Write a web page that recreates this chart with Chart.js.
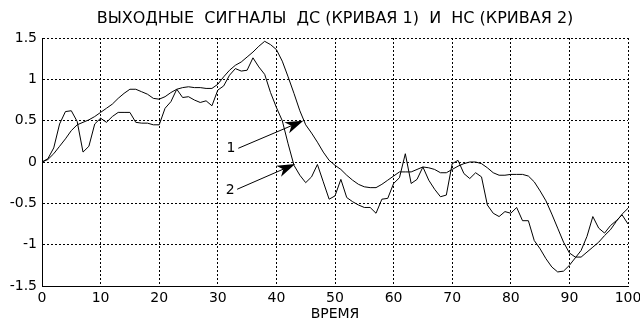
<!DOCTYPE html>
<html>
<head>
<meta charset="utf-8">
<script src="https://cdn.jsdelivr.net/npm/chart.js@4/dist/chart.umd.min.js"></script>
<style>
  html, body { margin: 0; padding: 0; background: #fff; }
  #wrap { width: 640px; height: 323px; }
</style>
</head>
<body>
<div id="wrap"><canvas id="c" width="640" height="323"></canvas></div>
<script>
// Sampling instants (time axis)
const time = Array.from({ length: 101 }, (_, i) => i);

// Curve 1: output of the ДС system
const dsOutput = [
  0, 0.03, 0.10, 0.19, 0.28, 0.38, 0.45, 0.48, 0.51, 0.55,
  0.60, 0.65, 0.70, 0.77, 0.83, 0.88, 0.88, 0.85, 0.82, 0.77,
  0.76, 0.79, 0.84, 0.88, 0.90, 0.91, 0.90, 0.90, 0.89, 0.89,
  0.94, 1.03, 1.11, 1.17, 1.21, 1.27, 1.33, 1.40, 1.46, 1.42,
  1.36, 1.22, 1.03, 0.83, 0.62, 0.45, 0.35, 0.24, 0.12, 0.02,
  -0.04, -0.09, -0.16, -0.22, -0.27, -0.30, -0.31, -0.31, -0.27, -0.22,
  -0.17, -0.12, -0.12, -0.12, -0.09, -0.06, -0.07, -0.09, -0.13, -0.13,
  -0.09, -0.05, -0.02, 0.00, 0.00, -0.02, -0.07, -0.13, -0.16, -0.16,
  -0.15, -0.15, -0.15, -0.17, -0.24, -0.35, -0.47, -0.63, -0.80, -0.97,
  -1.10, -1.15, -1.15, -1.09, -1.03, -0.97, -0.89, -0.82, -0.72, -0.63,
  -0.56
];

// Curve 2: output of the НС system
const nsOutput = [
  0, 0.04, 0.17, 0.46, 0.61, 0.62, 0.49, 0.12, 0.19, 0.46,
  0.53, 0.48, 0.55, 0.60, 0.60, 0.60, 0.48, 0.47, 0.47, 0.45,
  0.45, 0.65, 0.73, 0.88, 0.78, 0.79, 0.75, 0.72, 0.74, 0.68,
  0.87, 0.92, 1.05, 1.13, 1.10, 1.11, 1.26, 1.15, 1.06, 0.84,
  0.66, 0.50, 0.22, -0.04, -0.16, -0.25, -0.18, -0.03, -0.24, -0.45,
  -0.41, -0.21, -0.43, -0.48, -0.52, -0.55, -0.55, -0.62, -0.45, -0.44,
  -0.26, -0.19, 0.10, -0.26, -0.21, -0.06, -0.22, -0.33, -0.42, -0.40,
  -0.02, 0.02, -0.14, -0.20, -0.13, -0.18, -0.52, -0.62, -0.66, -0.60,
  -0.62, -0.55, -0.71, -0.71, -0.95, -1.05, -1.17, -1.27, -1.33, -1.32,
  -1.25, -1.16, -1.07, -0.90, -0.66, -0.80, -0.86, -0.77, -0.71, -0.64,
  -0.75
];

const xTicks = [0, 10, 20, 30, 40, 50, 60, 70, 80, 90, 100];
const yTicks = [-1.5, -1, -0.5, 0, 0.5, 1, 1.5];

// Curve markers: label text, label position, arrow start and arrow tip (data units)
const markerText = ['1', '2'];
const markerLabelAt = [[32.25, 0.17], [32.1, -0.34]];
const markerFrom = [[33.5, 0.166], [33.3, -0.33]];
const markerTip = [[44.6, 0.50], [43.2, -0.024]];

const FONT = 'DejaVu Sans';

const toPoints = ys => time.map((t, i) => ({ x: t, y: ys[i] }));

const curveMarkers = {
  id: 'curveMarkers',
  afterDatasetsDraw(chart) {
    const { ctx, scales: { x, y } } = chart;
    ctx.save();
    ctx.strokeStyle = '#000';
    ctx.fillStyle = '#000';
    ctx.lineWidth = 1;
    for (let i = 0; i < markerText.length; i++) {
      const x0 = x.getPixelForValue(markerFrom[i][0]);
      const y0 = y.getPixelForValue(markerFrom[i][1]);
      const x1 = x.getPixelForValue(markerTip[i][0]);
      const y1 = y.getPixelForValue(markerTip[i][1]);
      const ang = Math.atan2(y1 - y0, x1 - x0);
      const len = 18, half = 6, notch = 13;
      const bx = x1 - notch * Math.cos(ang), by = y1 - notch * Math.sin(ang);
      ctx.beginPath();
      ctx.moveTo(x0, y0);
      ctx.lineTo(bx, by);
      ctx.stroke();
      const cx = x1 - len * Math.cos(ang), cy = y1 - len * Math.sin(ang);
      ctx.beginPath();
      ctx.moveTo(x1, y1);
      ctx.lineTo(cx + half * Math.sin(ang), cy - half * Math.cos(ang));
      ctx.lineTo(bx, by);
      ctx.lineTo(cx - half * Math.sin(ang), cy + half * Math.cos(ang));
      ctx.closePath();
      ctx.fill();
      ctx.font = '14px "' + FONT + '"';
      ctx.textAlign = 'center';
      ctx.textBaseline = 'middle';
      ctx.fillText(markerText[i], x.getPixelForValue(markerLabelAt[i][0]), y.getPixelForValue(markerLabelAt[i][1]));
    }
    ctx.restore();
  }
};

new Chart(document.getElementById('c'), {
  type: 'line',
  data: {
    datasets: [
      { label: 'ДС', data: toPoints(dsOutput), borderColor: '#000', borderWidth: 1, pointRadius: 0, tension: 0, fill: false },
      { label: 'НС', data: toPoints(nsOutput), borderColor: '#000', borderWidth: 1, pointRadius: 0, tension: 0, fill: false }
    ]
  },
  options: {
    responsive: false,
    animation: false,
    devicePixelRatio: 1,
    layout: { padding: { top: 0, right: 12, bottom: 0, left: 0 } },
    plugins: {
      legend: { display: false },
      tooltip: { enabled: false },
      title: {
        display: true,
        fullSize: false,
        text: 'ВЫХОДНЫЕ  СИГНАЛЫ  ДС (КРИВАЯ 1)  И  НС (КРИВАЯ 2)',
        color: '#000',
        font: { family: FONT, size: 16, weight: 'normal', lineHeight: 1.2 },
        padding: { top: 9, bottom: 9.8 }
      }
    },
    scales: {
      x: {
        type: 'linear',
        min: 0, max: 100,
        afterBuildTicks: s => { s.ticks = xTicks.map(v => ({ value: v })); },
        afterFit: s => { s.height = 37; s.paddingLeft = 0; s.paddingRight = 0; },
        grid: { color: '#000', lineWidth: 1, drawTicks: false },
        border: { display: true, color: '#000', width: 1, dash: [2, 2] },
        ticks: { color: '#000', padding: 4, maxRotation: 0, font: { family: FONT, size: 14 }, callback: v => String(v) },
        title: { display: true, text: 'ВРЕМЯ', color: '#000', font: { family: FONT, size: 14 }, padding: { top: 0, bottom: 0 } }
      },
      y: {
        type: 'linear',
        min: -1.5, max: 1.5,
        afterBuildTicks: s => { s.ticks = yTicks.map(v => ({ value: v })); },
        afterFit: s => { s.width = 42; s.paddingTop = 0; s.paddingBottom = 0; },
        grid: { color: '#000', lineWidth: 1, drawTicks: false },
        border: { display: true, color: '#000', width: 1, dash: [2, 2] },
        ticks: { color: '#000', padding: 5, font: { family: FONT, size: 14 }, callback: v => String(v) }
      }
    }
  },
  plugins: [curveMarkers]
});
</script>
</body>
</html>
